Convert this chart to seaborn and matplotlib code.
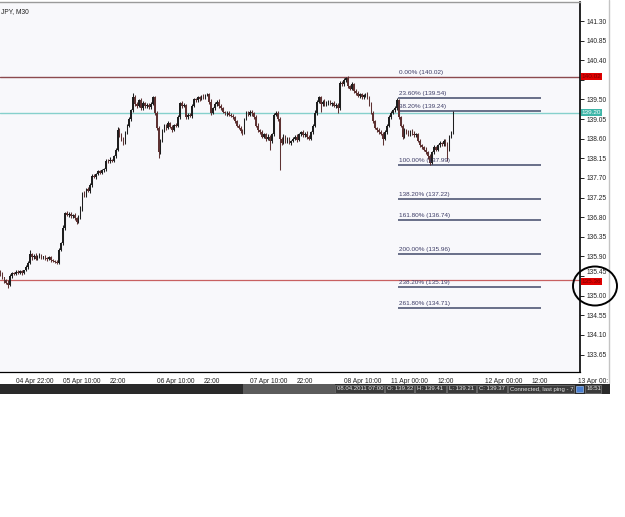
import numpy as np
import pandas as pd
import matplotlib
matplotlib.use("Agg")
import matplotlib.pyplot as plt
import matplotlib.transforms as mtransforms
from matplotlib.patches import Rectangle, Ellipse
import seaborn as sns

# ---------------- data ----------------
first_open = 135.55
closes = [
    135.50, 135.42, 135.35, 135.30, 135.25, 135.45, 135.52, 135.50, 135.55, 135.53,
    135.56, 135.52, 135.58, 135.65, 135.75, 135.95, 135.88, 135.92, 135.85, 135.90,
    135.93, 135.88, 135.90, 135.86, 135.84, 135.88, 135.82, 135.80, 135.78, 135.76,
    136.05, 136.20, 136.55, 136.90, 136.85, 136.88, 136.82, 136.86, 136.78, 136.70,
    136.80, 137.00, 137.35, 137.30, 137.45, 137.40, 137.55, 137.75, 137.72, 137.80,
    137.85, 137.82, 137.88, 137.90, 138.10, 138.08, 138.12, 138.10, 138.20, 138.35,
    138.80, 138.70, 138.60, 138.50, 138.75, 138.90, 139.05, 139.25, 139.55, 139.40,
    139.35, 139.48, 139.30, 139.42, 139.35, 139.38, 139.32, 139.40, 139.55, 139.20,
    138.85, 138.30, 138.55, 138.80, 138.90, 138.85, 138.95, 138.88, 138.80, 138.92,
    138.90, 139.10, 139.42, 139.35, 139.38, 139.10, 139.15, 139.12, 139.35, 139.50,
    139.48, 139.55, 139.52, 139.58, 139.55, 139.60, 139.62, 139.45, 139.20, 139.30,
    139.40, 139.45, 139.35, 139.30, 139.22, 139.18, 139.20, 139.15, 139.12, 139.10,
    139.00, 138.90, 138.85, 138.78, 138.75, 139.05, 139.20, 139.15, 139.22, 139.18,
    139.10, 138.90, 138.80, 138.75, 138.65, 138.70, 138.60, 138.65, 138.55, 138.70,
    139.15, 139.20, 139.05, 138.60, 138.50, 138.65, 138.55, 138.60, 138.50, 138.55,
    138.60, 138.65, 138.58, 138.70, 138.75, 138.68, 138.72, 138.65, 138.60, 138.75,
    138.90, 139.20, 139.45, 139.55, 139.40, 139.45, 139.38, 139.42, 139.45, 139.40,
    139.42, 139.35, 139.38, 139.30, 139.88, 139.85, 139.95, 140.00, 139.80, 139.75,
    139.85, 139.70, 139.65, 139.58, 139.62, 139.55, 139.60, 139.62, 139.55, 139.40,
    139.20, 139.00, 138.85, 138.80, 138.75, 138.72, 138.60, 138.75, 138.90, 139.10,
    139.20, 139.25, 139.30, 139.48, 139.10, 138.90, 138.65, 138.80, 138.75, 138.70,
    138.78, 138.72, 138.68, 138.70, 138.55, 138.45, 138.40, 138.35, 138.30, 138.20,
    138.05, 138.30, 138.40, 138.35, 138.45, 138.50, 138.48, 138.55, 138.50, 138.35,
    138.65, 138.75, 139.22,
]
# wick lengths in hundredths of a yen
upper_wick = [
    3, 4, 2, 3, 5, 4, 3, 2, 4, 3,  3, 4, 2, 5, 4, 10, 4, 3, 5, 3,
    4, 3, 2, 4, 3, 2, 4, 3, 2, 3,  5, 4, 6, 3, 4, 3, 5, 2, 4, 3,
    4, 5, 3, 4, 3, 5, 4, 3, 4, 2,  3, 4, 2, 3, 4, 3, 5, 2, 3, 4,
    6, 4, 3, 5, 3, 4, 5, 4, 10, 5, 4, 3, 5, 4, 3, 4, 3, 5, 3, 4,
    3, 4, 5, 3, 4, 3, 5, 4, 3, 2,  4, 5, 3, 4, 3, 2, 4, 3, 5, 4,
    3, 4, 3, 2, 4, 3, 2, 4, 5, 3,  4, 3, 5, 4, 3, 2, 3, 4, 3, 4,
    3, 4, 3, 5, 4, 3, 4, 3, 5, 4,  3, 4, 5, 3, 4, 3, 4, 5, 3, 4,
    5, 4, 3, 4, 3, 5, 4, 3, 4, 3,  4, 3, 5, 4, 3, 4, 3, 5, 4, 3,
    4, 5, 4, 3, 4, 3, 5, 4, 3, 4,  3, 4, 3, 4, 5, 4, 4, 2, 4, 3,
    4, 3, 5, 4, 3, 4, 3, 4, 5, 3,  4, 3, 4, 3, 5, 4, 3, 4, 3, 4,
    4, 3, 5, 6, 4, 3, 4, 5, 3, 4,  3, 4, 5, 4, 3, 4, 3, 4, 5, 3,
    4, 3, 5, 4, 3, 4, 3, 5, 4, 3,  4, 3, 2,
]
lower_wick = [
    4, 3, 5, 4, 7, 3, 4, 3, 2, 4,  3, 4, 3, 2, 4, 3, 5, 4, 3, 4,
    3, 4, 3, 5, 4, 3, 4, 3, 4, 4,  4, 3, 4, 5, 3, 4, 3, 4, 5, 6,
    4, 3, 5, 3, 4, 3, 4, 5, 3, 4,  3, 4, 3, 5, 4, 3, 4, 3, 4, 5,
    4, 5, 6, 4, 3, 4, 3, 4, 3, 5,  4, 3, 4, 3, 5, 4, 3, 4, 3, 5,
    6, 14, 4, 3, 5, 4, 3, 4, 5, 3, 4, 3, 5, 4, 3, 5, 4, 3, 4, 3,
    4, 3, 5, 4, 3, 4, 3, 5, 6, 4,  3, 4, 5, 3, 4, 3, 5, 4, 3, 4,
    5, 4, 3, 4, 6, 4, 3, 4, 3, 5,  4, 3, 5, 4, 3, 4, 5, 3, 21, 4,
    3, 4, 5, 72, 4, 3, 5, 4, 3, 4, 3, 4, 5, 3, 4, 3, 4, 5, 3, 4,
    4, 3, 5, 4, 18, 4, 3, 4, 5, 3, 4, 3, 5, 10, 4, 3, 4, 5, 3, 4,
    3, 4, 5, 3, 4, 3, 4, 5, 3, 5,  4, 5, 3, 4, 5, 4, 14, 3, 4, 3,
    4, 3, 4, 3, 5, 4, 6, 4, 3, 4,  3, 4, 5, 4, 3, 4, 3, 4, 5, 6,
    6, 4, 5, 3, 4, 3, 4, 5, 6, 25, 4, 3, 4,
]

tick_bars = [8, 32, 56, 80, 104, 128, 152, 176, 200, 224, 248, 272, 296]
tick_labels = ["04 Apr 22:00", "05 Apr 10:00", "22:00", "06 Apr 10:00", "22:00",
               "07 Apr 10:00", "22:00", "08 Apr 10:00", "11 Apr 00:00", "12:00",
               "12 Apr 00:00", "12:00", "13 Apr 00:00"]
price_ticks = [141.30, 140.85, 140.40, 139.95, 139.50, 139.05, 138.60, 138.15, 137.70,
               137.25, 136.80, 136.35, 135.90, 135.45, 135.00, 134.55, 134.10, 133.65]
hidden_tick = 139.95  # covered by the red price box in the reference

fib_labels = ["23.60%", "38.20%", "100.00%", "138.20%", "161.80%", "200.00%", "238.20%", "261.80%"]
fib_prices = [139.54, 139.24, 137.99, 137.22, 136.74, 135.96, 135.19, 134.71]
fib_top_label = "0.00%"
fib_top_price = 140.02

upper_line = 140.02
teal_line = 139.20
lower_line = 135.36

status_texts = ["08.04.2011 07:00", "O: 139.32", "H: 139.41", "L: 139.21", "C: 139.37",
                "Connected, last ping - 74 ms", "16:51"]

# ---------------- frame ----------------
n = len(closes)
opens = [first_open] + closes[:-1]
df = pd.DataFrame({"bar": np.arange(n), "open": opens, "close": closes,
                   "uw": upper_wick[:n], "lw": lower_wick[:n]})
df["high"] = df[["open", "close"]].max(axis=1) + df["uw"] / 100.0
df["low"] = df[["open", "close"]].min(axis=1) - df["lw"] / 100.0
df["bull"] = df["close"] >= df["open"]

sns.set_theme(style="white")
plt.rcParams["font.family"] = ["Liberation Sans", "DejaVu Sans"]

W, H = 625, 517
fig = plt.figure(figsize=(W / 100, H / 100), dpi=100)
fig.patch.set_facecolor("white")

def fx(px):
    return px / W

def fy(py):
    return 1 - py / H

ax = fig.add_axes([0, fy(372), fx(580), (372 - 2) / H])
ax.set_facecolor("#f8f8fb")
ax.set_xlim(-0.2, 296.9)
ax.set_ylim(133.25, 141.736)

bull_c = "#1e1e1e"
bear_c = "#5e3232"
for is_bull, col in [(True, bull_c), (False, bear_c)]:
    d = df[df["bull"] == is_bull]
    ax.vlines(d["bar"], d["low"], d["high"], color=col, lw=0.75, zorder=3)
    body = (d["close"] - d["open"]).abs().clip(lower=0.012)
    ax.bar(d["bar"], body, bottom=d[["open", "close"]].min(axis=1), width=0.8,
           color=col, linewidth=0, zorder=4)

# full-width horizontal lines
ax.axhline(upper_line, color="#8c4a4e", lw=1.0, zorder=2)
ax.axhline(teal_line, color="#86d0cc", lw=1.0, zorder=2)
ax.axhline(lower_line, color="#c86060", lw=0.9, zorder=2)

# fibonacci levels
x0, x1 = 203.7, 277.0
for lab, p in zip(fib_labels, fib_prices):
    ax.plot([x0, x1], [p, p], color="#5e6480", lw=1.3, zorder=2, solid_capstyle="butt")
    ax.annotate(f"{lab} ({p:.2f})", xy=(x0 + 0.3, p), xytext=(0, 1.6),
                textcoords="offset points", fontsize=4.6, color="#3c3c66",
                ha="left", va="bottom", zorder=5)
ax.annotate(f"{fib_top_label} ({fib_top_price:.2f})", xy=(x0 + 0.3, fib_top_price),
            xytext=(0, 1.6), textcoords="offset points", fontsize=4.6,
            color="#3c3c66", ha="left", va="bottom", zorder=5)

# axes styling
ax.spines["left"].set_visible(False)
ax.spines["top"].set_color("#9a9a9a")
ax.spines["top"].set_linewidth(1.0)
ax.spines["right"].set_color("black")
ax.spines["right"].set_linewidth(1.2)
ax.spines["bottom"].set_color("black")
ax.spines["bottom"].set_linewidth(0.9)

ax.yaxis.tick_right()
ax.set_yticks(price_ticks)
ax.set_yticklabels(["" if abs(p - hidden_tick) < 1e-6 else f"{p:.2f}" for p in price_ticks])
ax.tick_params(axis="y", direction="out", length=3, width=0.7, pad=1.5,
               labelsize=4.8, colors="#222222")
ax.set_xticks(tick_bars)
ax.set_xticklabels(tick_labels)
ax.tick_params(axis="x", direction="out", length=3, width=0.7, pad=1,
               labelsize=4.8, colors="#222222")
for t in ax.get_xticklabels():
    t.set_horizontalalignment("left")
for t, p in zip(ax.get_yticklabels(), price_ticks):
    if abs(p - 135.45) < 1e-6:
        t.set_verticalalignment("bottom")
        t.set_y(p - 0.02)
ax.set_xlabel("")
ax.set_ylabel("")
ax.grid(False)

ax.text(0.002, 0.985, "JPY, M30", transform=ax.transAxes, fontsize=4.8,
        color="#222222", ha="left", va="top")

# price labels on the right scale
trans = mtransforms.blended_transform_factory(ax.transAxes, ax.transData)
for p, fc, tc, dy in [(upper_line, "#e00000", "#7a0000", 0.0),
                      (teal_line, "#3fb6a8", "white", 0.0),
                      (lower_line, "#e00000", "#7a0000", -0.03)]:
    ax.text(1.003, p + dy, f"{p:.2f}", transform=trans, fontsize=4.6, color=tc,
            ha="left", va="center", clip_on=False, zorder=10,
            bbox=dict(boxstyle="square,pad=0.15", fc=fc, ec="none"))

# cover right edge beyond the window border
fig.add_artist(Rectangle((fx(608), fy(383)), fx(17), 383 / H, transform=fig.transFigure,
                         fc="white", ec="none", zorder=5))
fig.add_artist(plt.Line2D([fx(608.5), fx(608.5)], [fy(0), fy(383)],
                          transform=fig.transFigure, color="#c4c4c4", lw=1.0, zorder=6))

# status bar
fig.add_artist(Rectangle((fx(0), fy(394)), fx(610), 10 / H, transform=fig.transFigure,
                         fc="#2a2a2a", ec="none", zorder=6))
fig.add_artist(Rectangle((fx(243), fy(394)), fx(92), 10 / H, transform=fig.transFigure,
                         fc="#5c5c5c", ec="none", zorder=6))
segs = [(335, 384), (385, 414), (415, 446), (447, 476), (477, 507), (508, 574), (585, 601)]
for (a, b), txt in zip(segs, status_texts):
    fig.add_artist(Rectangle((fx(a), fy(393)), fx(b - a), 8 / H, transform=fig.transFigure,
                             fc="#3a3a3a", ec="#7a7a7a", lw=0.5, zorder=7))
    t = fig.text(fx(a + 2), fy(389), txt, fontsize=4.3, color="#e6e6e6",
                 ha="left", va="center", zorder=8)
    t.set_clip_path(Rectangle((fx(a), fy(393)), fx(b - a), 8 / H, transform=fig.transFigure))
fig.add_artist(Rectangle((fx(576), fy(392)), fx(7), 6 / H, transform=fig.transFigure,
                         fc="#4a7fd0", ec="#9fc0f0", lw=0.5, zorder=8))

# hand-drawn circle
fig.add_artist(Ellipse((fx(595), fy(286)), fx(44), 39 / H, transform=fig.transFigure,
                       fc="none", ec="black", lw=1.4, zorder=9))

fig.savefig("out.png", dpi=100, facecolor="white")
